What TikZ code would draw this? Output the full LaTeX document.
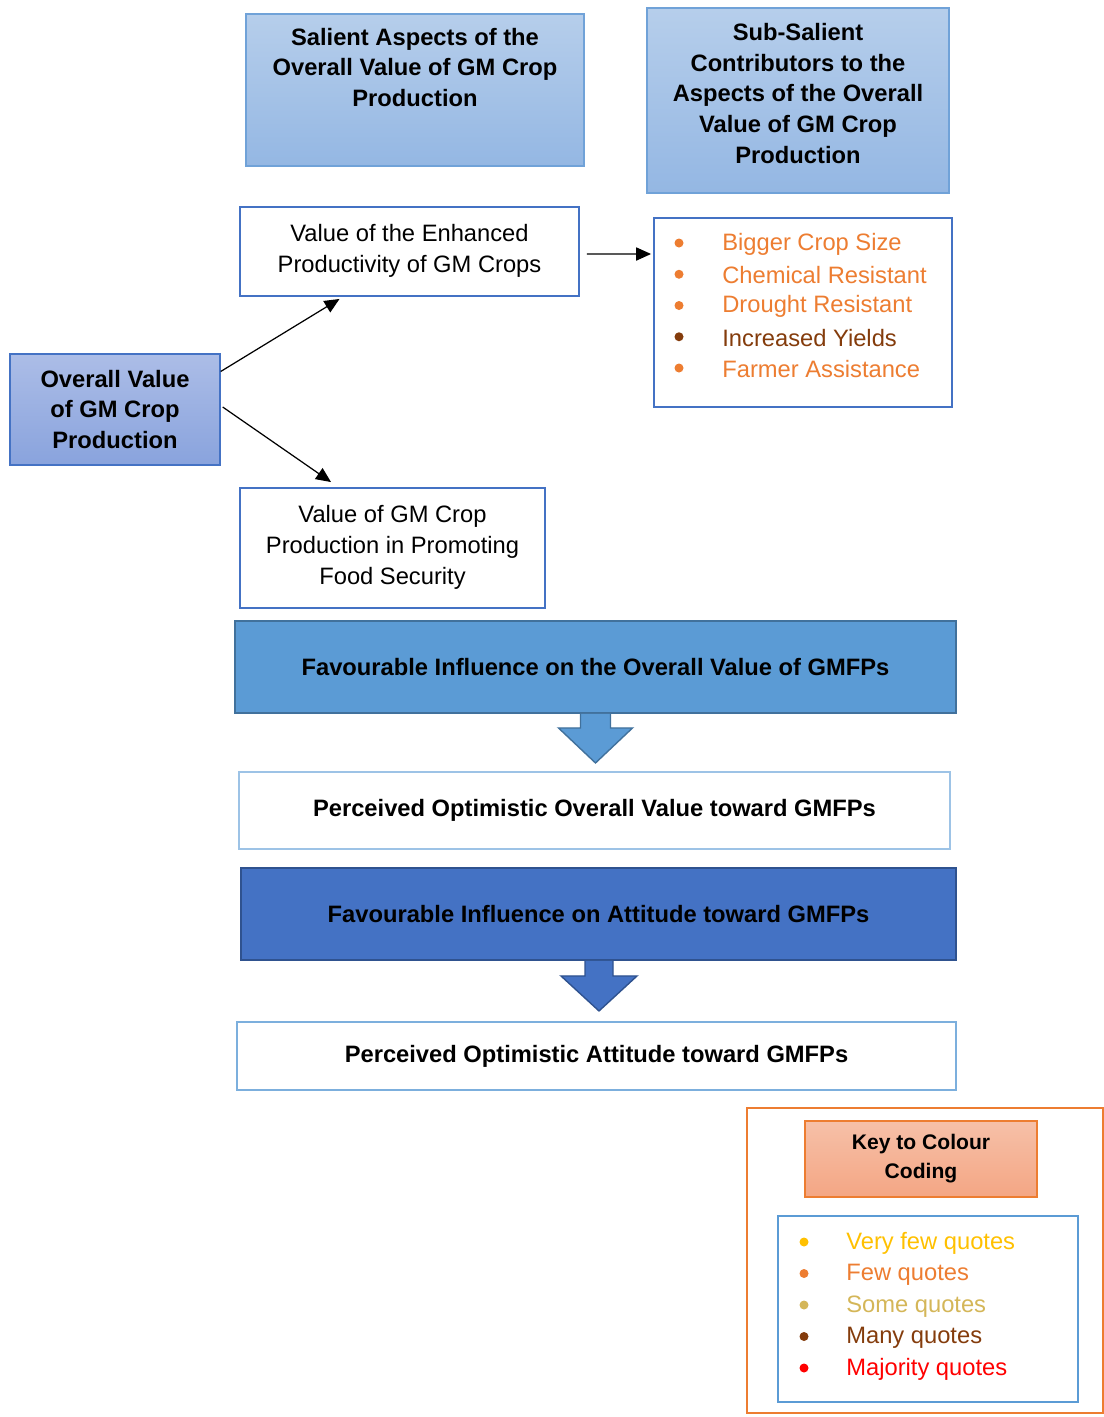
\documentclass[tikz,border=0pt]{standalone}
\usepackage{fontspec}
\setmainfont{Liberation Sans}
\usetikzlibrary{arrows.meta,calc}
\definecolor{hdrtop}{RGB}{182,206,235}
\definecolor{hdrbot}{RGB}{148,183,227}
\definecolor{hdrline}{RGB}{112,162,216}
\definecolor{boxline}{RGB}{68,114,196}
\definecolor{ovtop}{RGB}{172,189,231}
\definecolor{ovbot}{RGB}{137,163,221}
\definecolor{favone}{RGB}{91,155,213}
\definecolor{favoneline}{RGB}{65,113,156}
\definecolor{favtwo}{RGB}{68,114,196}
\definecolor{favtwoline}{RGB}{47,82,143}
\definecolor{perline}{RGB}{157,195,230}
\definecolor{keyline}{RGB}{91,155,213}
\definecolor{keytop}{RGB}{246,192,168}
\definecolor{keybot}{RGB}{244,166,132}
\definecolor{fewq}{RGB}{237,125,49}
\definecolor{veryfewq}{RGB}{255,192,0}
\definecolor{someq}{RGB}{212,182,88}
\definecolor{manyq}{RGB}{132,60,12}
\definecolor{majq}{RGB}{255,0,0}

\begin{document}
\begin{tikzpicture}[x=0.02cm,y=-0.02cm,->,>={Triangle[length=8.5pt,width=7.5pt]},
    every node/.style={font=\fontsize{13.5}{17.5}\selectfont,align=center},
    hdr/.style={rectangle,draw=hdrline,line width=0.8pt,top color=hdrtop,bottom color=hdrbot},
    plainbox/.style={rectangle,draw=boxline,line width=1.1pt,fill=white},
    favbox/.style={rectangle,line width=1.1pt,font=\fontsize{13.5}{17.5}\selectfont\bfseries},
    perbox/.style={rectangle,draw=perline,line width=1.1pt,font=\fontsize{13.5}{17.5}\selectfont\bfseries},
    item/.style={anchor=west,inner sep=0pt}]
  \useasboundingbox (0,0) rectangle (1104,1417);

  \node[hdr,minimum width=6.76cm,minimum height=3.04cm] (salient) at (415,90) {};
  \node[font=\fontsize{13.5}{17.5}\selectfont\bfseries] (salienttxt) at (415,67.5)
    {Salient Aspects of the\\Overall Value of GM Crop\\Production};
  \node[hdr,minimum width=6.04cm,minimum height=3.7cm] (subsalient) at (798,100.5) {};
  \node[font=\fontsize{13.5}{17.5}\selectfont\bfseries] (subsalienttxt) at (798,93.5)
    {Sub-Salient\\Contributors to the\\Aspects of the Overall\\Value of GM Crop\\Production};

  \node[plainbox,minimum width=6.78cm,minimum height=1.78cm] (enhanced) at (409.5,251.5)
    {Value of the Enhanced\\Productivity of GM Crops\\[-14pt]};
  \node[plainbox,minimum width=5.96cm,minimum height=3.78cm] (subs) at (803,312.5) {};
  \foreach \txt/\col [count=\i] in {Bigger Crop Size/fewq,Chemical Resistant/fewq,
      Drought Resistant/fewq,Increased Yields/manyq,Farmer Assistance/fewq} {
    \fill[\col] (679,211.75+31.25*\i) circle (0.9mm);
    \node[item,text=\col] (sub\i) at (722,213+31.25*\i) {\txt};
  }

  \node[rectangle,draw=boxline,line width=0.8pt,top color=ovtop,bottom color=ovbot,
    minimum width=4.2cm,minimum height=2.22cm,font=\fontsize{13.5}{17.5}\selectfont\bfseries]
    (overall) at (115,409.5) {Overall Value\\of GM Crop\\Production};
  \node[plainbox,minimum width=6.1cm,minimum height=2.4cm] (food) at (392.5,548)
    {Value of GM Crop\\Production in Promoting\\Food Security\\[-14pt]};

  \draw[line width=0.7pt] ($(overall.east)+(0,-38)$) -- ($(enhanced.south)+(-70,2)$);
  \draw[line width=0.7pt] ($(overall.east)+(2,-2.5)$) -- ($(food.north)+(-61.5,-5)$);
  \draw[line width=0.7pt] ($(enhanced.east)+(7,2.5)$) -- ($(subs.west)+(-2,-58.5)$);

  \node[favbox,draw=favoneline,fill=favone,minimum width=14.42cm,minimum height=1.84cm]
    (fav1) at (595.5,667) {Favourable Influence on the Overall Value of GMFPs};
  \filldraw[-,fill=favone,draw=favoneline,line width=0.8pt] ($(fav1.south)+(-15,0)$)
    -- ++(0,14) -- ++(-22,0) -- ++(37,35) -- ++(37,-35) -- ++(-22,0) -- ++(0,-14);
  \node[perbox,minimum width=14.22cm,minimum height=1.54cm] (per1) at (594.5,810.5)
    {Perceived Optimistic Overall Value toward GMFPs};

  \node[favbox,draw=favtwoline,fill=favtwo,minimum width=14.3cm,minimum height=1.84cm]
    (fav2) at (598.5,914) {Favourable Influence on Attitude toward GMFPs};
  \filldraw[-,fill=favtwo,draw=favtwoline,line width=0.8pt] ($(fav2.south)+(-13.5,0)$)
    -- ++(0,15) -- ++(-24,0) -- ++(38,35) -- ++(38,-35) -- ++(-24,0) -- ++(0,-15);
  \node[perbox,draw=keyline!80,minimum width=14.38cm,minimum height=1.36cm] (per2) at (596.5,1056)
    {Perceived Optimistic Attitude toward GMFPs};

  \node[rectangle,draw=fewq,line width=1.3pt,minimum width=7.12cm,minimum height=6.1cm]
    (keyout) at (925,1260.5) {};
  \node[rectangle,draw=fewq,line width=0.8pt,top color=keytop,bottom color=keybot,
    minimum width=4.64cm,minimum height=1.52cm,font=\fontsize{12}{16.5}\selectfont\bfseries]
    (keytitle) at (921,1159) {Key to Colour\\Coding};
  \node[rectangle,draw=keyline,line width=1.1pt,minimum width=6cm,minimum height=3.72cm]
    (keylist) at (928,1309) {};
  \foreach \txt/\col [count=\i] in {Very few quotes/veryfewq,Few quotes/fewq,
      Some quotes/someq,Many quotes/manyq,Majority quotes/majq} {
    \fill[\col] (804,1210.5+31.5*\i) circle (0.9mm);
    \node[item,text=\col] (key\i) at (846,1212+31.5*\i) {\txt};
  }
\end{tikzpicture}
\end{document}
